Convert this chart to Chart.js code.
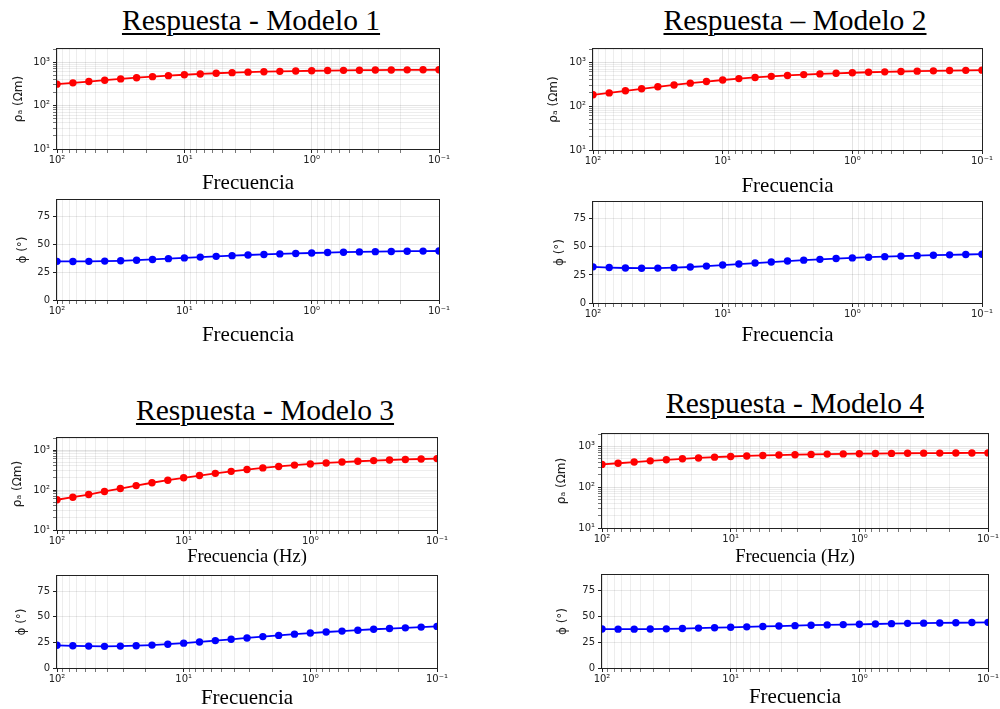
<!DOCTYPE html>
<html>
<head>
<meta charset="utf-8">
<script src="https://cdn.jsdelivr.net/npm/chart.js@4.4.1/dist/chart.umd.min.js"></script>
<style>
  body { margin: 0; background: #fff; width: 1000px; height: 709px; position: relative; overflow: hidden; }
  canvas { position: absolute; }
  .ttl {
    position: absolute; width: 400px; text-align: center; white-space: nowrap; color: #000;
    font-family: "Liberation Serif", "Times New Roman", serif; font-size: 29.5px; line-height: 30px;
    text-decoration: underline; text-decoration-thickness: 2px; text-underline-offset: 3px;
  }
</style>
</head>
<body>
<div class="ttl" style="left:51px;top:5px">Respuesta - Modelo 1</div>
<div class="ttl" style="left:595px;top:5px">Respuesta – Modelo 2</div>
<div class="ttl" style="left:65px;top:395px">Respuesta - Modelo 3</div>
<div class="ttl" style="left:595px;top:388px">Respuesta - Modelo 4</div>
<script>
// frecuencias (Hz), 8 por decada, de 100 a 0.1
const freq = [100, 74.99, 56.23, 42.17, 31.62, 23.71, 17.78, 13.34,
              10, 7.499, 5.623, 4.217, 3.162, 2.371, 1.778, 1.334,
              1, 0.7499, 0.5623, 0.4217, 0.3162, 0.2371, 0.1778, 0.1334, 0.1];

// resistividad aparente (ohm m)
const rho1 = [311, 333, 357, 383, 410, 437, 462, 487, 511, 533, 553, 571, 587, 600, 612, 622, 631, 639, 645, 651, 655, 659, 662, 664, 666];
const rho2 = [181, 200, 223, 248, 275, 303, 333, 363, 393, 423, 450, 476, 500, 522, 541, 559, 575, 590, 603, 615, 626, 636, 645, 653, 660];
const rho3 = [57, 66, 77, 92, 109, 129, 152, 176, 202, 230, 261, 293, 325, 357, 389, 420, 449, 476, 501, 524, 545, 564, 581, 596, 610];
const rho4 = [360, 385, 412, 440, 467, 494, 519, 542, 563, 581, 597, 611, 623, 634, 644, 652, 659, 665, 670, 675, 679, 682, 685, 688, 690];

// fase (grados)
const phi1 = [34.8, 34.7, 34.8, 35.0, 35.3, 35.8, 36.5, 37.2, 37.9, 38.6, 39.3, 39.9, 40.5, 41.0, 41.5, 41.9, 42.3, 42.7, 43.0, 43.3, 43.5, 43.7, 43.9, 44.0, 44.1];
const phi2 = [32.2, 31.6, 31.2, 31.0, 31.1, 31.5, 32.1, 32.9, 33.8, 34.7, 35.6, 36.5, 37.4, 38.2, 38.9, 39.6, 40.2, 40.8, 41.3, 41.8, 42.2, 42.6, 42.9, 43.2, 43.5];
const phi3 = [22.2, 21.7, 21.4, 21.2, 21.4, 21.8, 22.4, 23.3, 24.3, 25.5, 26.8, 28.1, 29.4, 30.7, 31.9, 33.1, 34.2, 35.2, 36.1, 37.0, 37.9, 38.6, 39.3, 40.0, 40.7];
const phi4 = [37.7, 37.6, 37.6, 37.7, 37.9, 38.2, 38.6, 39.0, 39.4, 39.8, 40.2, 40.6, 41.0, 41.4, 41.7, 42.0, 42.3, 42.6, 42.9, 43.2, 43.4, 43.6, 43.8, 44.0, 44.2];

// tick labels
const decadeX = [100, 10, 1, 0.1];
const decadeXLabels = ['10²', '10¹', '10⁰', '10⁻¹'];
const decadeY = [10, 100, 1000];
const decadeYLabels = ['10¹', '10²', '10³'];
const phiTicks = [0, 25, 50, 75];

const rhoTitle = 'ρₐ (Ωm)';
const phiTitle = 'ϕ (°)';

// plot boxes in page pixels (L,T,R,B), y label centre, x title middle
const specs = [
  { L: 57,  T: 48,  R: 439, B: 149, yl: 19,  xt: 183, xfs: 21,   xlab: 'Frecuencia',      kind: 'rho', vals: rho1 },
  { L: 57,  T: 199, R: 439, B: 300, yl: 23,  xt: 335, xfs: 21,   xlab: 'Frecuencia',      kind: 'phi', vals: phi1 },
  { L: 593, T: 48,  R: 982, B: 150, yl: 554, xt: 186, xfs: 21,   xlab: 'Frecuencia',      kind: 'rho', vals: rho2 },
  { L: 593, T: 201, R: 982, B: 303, yl: 560, xt: 335, xfs: 21,   xlab: 'Frecuencia',      kind: 'phi', vals: phi2 },
  { L: 57,  T: 437, R: 437, B: 530, yl: 18,  xt: 557, xfs: 18.5, xlab: 'Frecuencia (Hz)', kind: 'rho', vals: rho3 },
  { L: 57,  T: 575, R: 437, B: 668, yl: 22,  xt: 698, xfs: 21,   xlab: 'Frecuencia',      kind: 'phi', vals: phi3 },
  { L: 602, T: 433, R: 988, B: 528, yl: 562, xt: 557, xfs: 18.5, xlab: 'Frecuencia (Hz)', kind: 'rho', vals: rho4 },
  { L: 602, T: 574, R: 988, B: 668, yl: 563, xt: 697, xfs: 21,   xlab: 'Frecuencia',      kind: 'phi', vals: phi4 },
];

const isDecade = v => Math.abs(Math.log10(v) - Math.round(Math.log10(v))) < 1e-9;

// 1..9 x 10^n ticks between lo and hi
function logTicks(lo, hi) {
  const out = [];
  for (let d = lo; d < hi * 0.999; d *= 10) {
    for (let m = 1; m <= 9; m++) {
      const v = +(m * d).toPrecision(6);
      if (v <= hi * 1.0001) out.push(v);
    }
  }
  if (!out.some(v => Math.abs(v - hi) / hi < 1e-6)) out.push(hi);
  return out;
}
const xTickVals = logTicks(0.1, 100).reverse();
const yTickVals = logTicks(10, 2000);

function labelFor(v, vals, labels) {
  const i = vals.findIndex(d => Math.abs(d - v) / d < 1e-6);
  return i < 0 ? '' : labels[i];
}

const gridCol = c => (c.tick && isDecade(c.tick.value)) ? 'rgba(0,0,0,0.11)' : 'rgba(0,0,0,0.07)';
const tickCol = c => (c.tick && isDecade(c.tick.value)) ? '#222' : '#777';
const sansFamily = "'DejaVu Sans', 'Noto Sans', sans-serif";
const tickFont = { family: sansFamily, size: 10 };

// full box around the plot, like matplotlib spines
const frame = {
  id: 'frame',
  afterDatasetsDraw(chart) {
    const a = chart.chartArea, ctx = chart.ctx;
    ctx.save();
    ctx.strokeStyle = '#222';
    ctx.lineWidth = 1;
    ctx.strokeRect(Math.round(a.left) - 0.5, Math.round(a.top) - 0.5,
                   Math.round(a.right - a.left) + 1, Math.round(a.bottom - a.top) + 1);
    ctx.restore();
  }
};

specs.forEach(s => {
  const padT = 8, padR = 16;
  const ylh = 12 * 1.2, xlh = s.xfs * 1.2;
  const cl = Math.round(s.yl - ylh / 2);
  const ct = s.T - padT;
  const cb = Math.round(s.xt + xlh / 2);

  const cv = document.createElement('canvas');
  cv.width = s.R + padR - cl;
  cv.height = cb - ct;
  cv.style.left = cl + 'px';
  cv.style.top = ct + 'px';
  document.body.appendChild(cv);

  const isRho = s.kind === 'rho';
  const col = isRho ? '#ff0000' : '#0000ff';

  const yScale = isRho ? {
    type: 'logarithmic', min: 10, max: 2000,
    afterBuildTicks: sc => { sc.ticks = yTickVals.map(v => ({ value: v })); },
    ticks: { autoSkip: false, padding: 3, color: '#222', font: tickFont,
             callback: v => labelFor(v, decadeY, decadeYLabels) },
    grid: { color: gridCol, tickColor: tickCol, tickLength: 4 },
  } : {
    type: 'linear', min: 0, max: 90,
    afterBuildTicks: sc => { sc.ticks = phiTicks.map(v => ({ value: v })); },
    ticks: { autoSkip: false, padding: 3, color: '#222', font: tickFont },
    grid: { color: 'rgba(0,0,0,0.09)', tickColor: '#222', tickLength: 4 },
  };
  yScale.afterFit = sc => { sc.width = s.L - cl; };
  yScale.border = { display: false };
  yScale.title = { display: true, text: isRho ? rhoTitle : phiTitle, color: '#222', padding: 0,
                   font: { family: sansFamily, size: 12 } };

  new Chart(cv, {
    type: 'line',
    data: {
      datasets: [{
        data: freq.map((f, i) => ({ x: f, y: s.vals[i] })),
        borderColor: col,
        backgroundColor: col,
        pointBackgroundColor: col,
        pointBorderColor: col,
        borderWidth: 1.8,
        pointRadius: 3.7,
        pointBorderWidth: 0,
        pointHoverRadius: 3.7,
        tension: 0,
        clip: 0,
      }],
    },
    options: {
      responsive: false,
      animation: false,
      devicePixelRatio: 1,
      layout: { padding: { left: 0, top: padT, right: padR, bottom: 0 } },
      plugins: { legend: { display: false }, tooltip: { enabled: false } },
      scales: {
        x: {
          type: 'logarithmic', min: 0.1, max: 100, reverse: true,
          afterBuildTicks: sc => { sc.ticks = xTickVals.map(v => ({ value: v })); },
          afterFit: sc => { sc.height = cb - s.B; },
          ticks: { autoSkip: false, maxRotation: 0, minRotation: 0, padding: 1, color: '#222', font: tickFont,
                   callback: v => labelFor(v, decadeX, decadeXLabels) },
          grid: { color: gridCol, tickColor: tickCol, tickLength: 4 },
          border: { display: false },
          title: { display: true, text: s.xlab, color: '#000', padding: 0,
                   font: { family: "'Liberation Serif', serif", size: s.xfs } },
        },
        y: yScale,
      },
    },
    plugins: [frame],
  });
});
</script>
</body>
</html>
